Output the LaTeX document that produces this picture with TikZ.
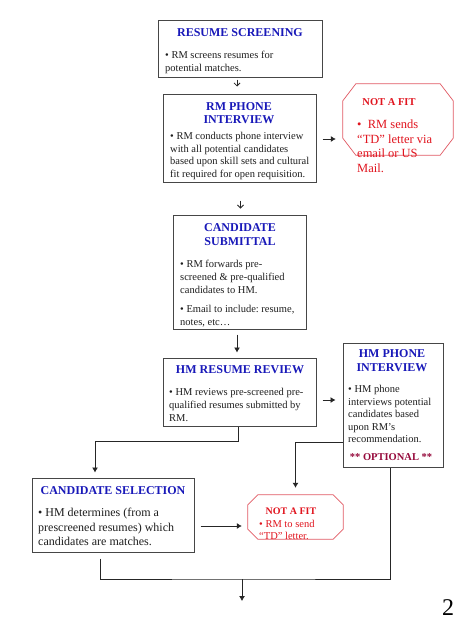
\documentclass[tikz,border=0pt]{standalone}
\usepackage{fontspec}
\setmainfont{Liberation Serif}
\usetikzlibrary{arrows.meta,calc}
\frenchspacing
\definecolor{ttlblue}{RGB}{25,25,185}
\definecolor{fitred}{RGB}{225,20,30}
\definecolor{octline}{RGB}{225,90,100}
\definecolor{optred}{RGB}{150,10,60}
\definecolor{boxline}{RGB}{70,70,70}
\definecolor{txt}{RGB}{30,30,30}
\begin{document}
\begin{tikzpicture}[x=1pt,y=-1pt,
  box/.style={draw=boxline, line width=1pt, inner sep=0pt, rectangle},
  octarea/.style={inner sep=0pt, rectangle},
  octline/.style={draw=octline, line width=0.7pt},
  ttl/.style={font=\fontsize{12}{13}\selectfont\bfseries, text=ttlblue, inner sep=0pt, align=center},
  body/.style={font=\fontsize{10.5}{12.5}\selectfont, text=txt, inner sep=0pt, anchor=base west},
  conn/.style={draw=black!85, line width=0.8pt},
  arr/.style={conn, -{Latex[length=5pt,width=6pt]}},
  varr/.style={conn, -{Straight Barb[length=3pt,width=6pt]}},
]
\useasboundingbox[fill=white] (0,0) rectangle (474,632);

% boxes
\node[box, minimum width=164pt, minimum height=57pt] (b1) at (240,48.5) {};
\node[box, minimum width=153pt, minimum height=88pt] (b2) at (239.5,138) {};
\node[box, minimum width=133pt, minimum height=114pt] (b3) at (239.5,272) {};
\node[box, minimum width=153pt, minimum height=68pt] (b4) at (239.5,392) {};
\node[box, minimum width=100pt, minimum height=124pt] (b5) at (393,405) {};
\node[box, minimum width=162pt, minimum height=74pt] (b6) at (113,515) {};

% octagons
\node[octarea, minimum width=110pt, minimum height=71pt] (o1) at (398,119.5) {};
\draw[octline] ($(o1.north west)+(13,0)$) -- ($(o1.north east)+(-13,0)$) -- ($(o1.north east)+(0,17)$) -- ($(o1.south east)+(0,-17)$) -- ($(o1.south east)+(-13,0)$) -- ($(o1.south west)+(13,0)$) -- ($(o1.south west)+(0,-17)$) -- ($(o1.north west)+(0,17)$) -- cycle;
\node[octarea, minimum width=95pt, minimum height=44pt] (o2) at (295.5,517) {};
\draw[octline] ($(o2.north west)+(10,0)$) -- ($(o2.north east)+(-10,0)$) -- ($(o2.north east)+(0,10)$) -- ($(o2.south east)+(0,-10)$) -- ($(o2.south east)+(-10,0)$) -- ($(o2.south west)+(10,0)$) -- ($(o2.south west)+(0,-10)$) -- ($(o2.north west)+(0,10)$) -- cycle;

% texts
\node[ttl] (t1) at (240,33) {RESUME SCREENING};
\node[body] (x1) at (165,58.5) {\begin{tabular}[t]{@{}l@{}}\textbullet{} RM screens resumes for\\potential matches.\end{tabular}};

\node[ttl] (t2) at (239,113) {RM PHONE\\INTERVIEW};
\node[body] (x2) at (170,139.5) {\begin{tabular}[t]{@{}l@{}}\textbullet{} RM conducts phone interview\\with all potential candidates\\based upon skill sets and cultural\\fit required for open requisition.\end{tabular}};

\node[ttl, font=\fontsize{12}{14.5}\selectfont\bfseries] (t3) at (240,234.5) {CANDIDATE\\SUBMITTAL};
\node[body, font=\fontsize{10.5}{13}\selectfont] (x3) at (180,267.5) {\begin{tabular}[t]{@{}l@{}}\textbullet{} RM forwards pre-\\screened \& pre-qualified\\candidates to HM.\end{tabular}};
\node[body, font=\fontsize{10.5}{13}\selectfont] (x3b) at (180,312.5) {\begin{tabular}[t]{@{}l@{}}\textbullet{} Email to include: resume,\\notes, etc…\end{tabular}};

\node[ttl] (t4) at (240,370) {HM RESUME REVIEW};
\node[body, font=\fontsize{10.5}{13}\selectfont] (x4) at (169,395.5) {\begin{tabular}[t]{@{}l@{}}\textbullet{} HM reviews pre-screened pre-\\qualified resumes submitted by\\RM.\end{tabular}};

\node[ttl, font=\fontsize{12}{14}\selectfont\bfseries] (t5) at (392,361) {HM PHONE\\INTERVIEW};
\node[body] (x5) at (348,392.5) {\begin{tabular}[t]{@{}l@{}}\textbullet{} HM phone\\interviews potential\\candidates based\\upon RM’s\\recommendation.\end{tabular}};
\node[inner sep=0pt, font=\fontsize{10.5}{12}\selectfont\bfseries, text=optred] (op) at (391,457) {** OPTIONAL **};

\node[ttl] (t6) at (113,491) {CANDIDATE SELECTION};
\node[body, font=\fontsize{12}{14.5}\selectfont] (x6) at (38,516.5) {\begin{tabular}[t]{@{}l@{}}\textbullet{} HM determines (from a\\prescreened resumes) which\\candidates are matches.\end{tabular}};

\node[inner sep=0pt, font=\fontsize{10.5}{12}\selectfont\bfseries, text=fitred] (f1) at (389,102) {NOT A FIT};
\node[body, text=fitred, font=\fontsize{12.5}{14.5}\selectfont] (y1) at (357,128.5) {\begin{tabular}[t]{@{}l@{}}\textbullet{}\ \ RM sends\\“TD” letter via\\email or US\\Mail.\end{tabular}};
\node[inner sep=0pt, font=\fontsize{10}{12}\selectfont\bfseries, text=fitred] (f2) at (291,511) {NOT A FIT};
\node[body, text=fitred, font=\fontsize{10.5}{12}\selectfont] (y2) at (259,527.5) {\begin{tabular}[t]{@{}l@{}}\textbullet{} RM to send\\“TD” letter.\end{tabular}};

\node[inner sep=0pt, font=\fontsize{24}{24}\selectfont] (pg) at (448,608) {2};

% connectors
\draw[varr, shorten <=2pt, shorten >=7pt] ([xshift=-3pt]b1.south) -- ([xshift=-3pt]b1.south |- b2.north);
\draw[varr, shorten <=18pt, shorten >=6pt] ([xshift=1pt]b2.south) -- ([xshift=1pt]b2.south |- b3.north);
\draw[arr, shorten <=5pt, shorten >=5pt] ([xshift=-2.5pt]b3.south) -- ([xshift=-2.5pt]b3.south |- b4.north);
\draw[arr, shorten <=6pt, shorten >=7pt] ([yshift=-1pt]b2.east) -- ([yshift=-1pt]b2.east -| o1.west);
\draw[arr, shorten <=6pt, shorten >=7pt] ([yshift=-8pt]b4.east) -- ([yshift=-8pt]b4.east -| b5.west);
\draw[arr, shorten >=5pt] ([xshift=-1.5pt]b4.south) |- ($(b6.north)+(-18,-36)$) -- ([xshift=-18pt]b6.north);
\draw[arr, shorten >=7pt] ([yshift=-37pt]b5.west) -| (o2.north);
\draw[arr, shorten <=6pt, shorten >=6pt] ([yshift=-11pt]b6.east) -- ([yshift=-11pt]b6.east -| o2.west);
\coordinate (join) at (242,579);
\coordinate (out) at (242,601);
\draw[conn] ([xshift=-13pt,yshift=-6pt]b6.south) |- (join) -| ([xshift=-3pt]b5.south);
\draw[arr] (join) -- (out);
\end{tikzpicture}
\end{document}
